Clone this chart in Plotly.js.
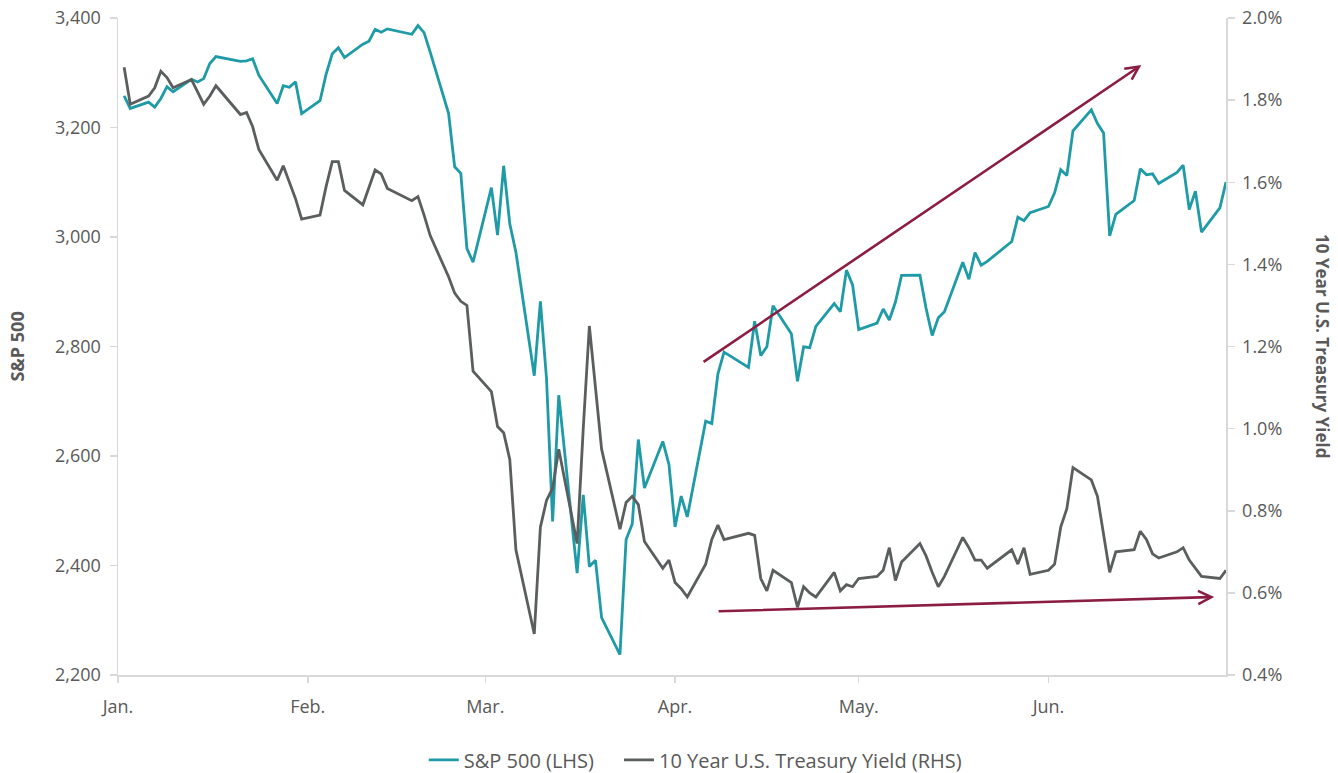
<!DOCTYPE html>
<html>
<head>
<meta charset="utf-8">
<script src="https://cdn.plot.ly/plotly-3.0.1.min.js"></script>
<style>html,body{margin:0;padding:0;background:#fff;}#chart{width:1338px;height:773px;}</style>
</head>
<body>
<div id="chart"></div>
<script>
const dates = [
'2020-01-02','2020-01-03','2020-01-06','2020-01-07','2020-01-08','2020-01-09','2020-01-10','2020-01-13','2020-01-14','2020-01-15','2020-01-16','2020-01-17','2020-01-21','2020-01-22','2020-01-23','2020-01-24','2020-01-27','2020-01-28','2020-01-29','2020-01-30','2020-01-31',
'2020-02-03','2020-02-04','2020-02-05','2020-02-06','2020-02-07','2020-02-10','2020-02-11','2020-02-12','2020-02-13','2020-02-14','2020-02-18','2020-02-19','2020-02-20','2020-02-21','2020-02-24','2020-02-25','2020-02-26','2020-02-27','2020-02-28',
'2020-03-02','2020-03-03','2020-03-04','2020-03-05','2020-03-06','2020-03-09','2020-03-10','2020-03-11','2020-03-12','2020-03-13','2020-03-16','2020-03-17','2020-03-18','2020-03-19','2020-03-20','2020-03-23','2020-03-24','2020-03-25','2020-03-26','2020-03-27','2020-03-30','2020-03-31',
'2020-04-01','2020-04-02','2020-04-03','2020-04-06','2020-04-07','2020-04-08','2020-04-09','2020-04-13','2020-04-14','2020-04-15','2020-04-16','2020-04-17','2020-04-20','2020-04-21','2020-04-22','2020-04-23','2020-04-24','2020-04-27','2020-04-28','2020-04-29','2020-04-30',
'2020-05-01','2020-05-04','2020-05-05','2020-05-06','2020-05-07','2020-05-08','2020-05-11','2020-05-12','2020-05-13','2020-05-14','2020-05-15','2020-05-18','2020-05-19','2020-05-20','2020-05-21','2020-05-22','2020-05-26','2020-05-27','2020-05-28','2020-05-29',
'2020-06-01','2020-06-02','2020-06-03','2020-06-04','2020-06-05','2020-06-08','2020-06-09','2020-06-10','2020-06-11','2020-06-12','2020-06-15','2020-06-16','2020-06-17','2020-06-18','2020-06-19','2020-06-22','2020-06-23','2020-06-24','2020-06-25','2020-06-26','2020-06-29','2020-06-30'
];

const sp500 = [
3257.85,3234.85,3246.28,3237.18,3253.05,3274.70,3265.35,3288.13,3283.15,3289.29,3316.81,3329.62,3320.79,3321.75,3325.54,3295.47,3243.63,3276.24,3273.40,3283.66,3225.52,
3248.92,3297.59,3334.69,3345.78,3327.71,3352.09,3357.75,3379.45,3373.94,3380.16,3370.29,3386.15,3373.23,3337.75,3225.89,3128.21,3116.39,2978.76,2954.22,
3090.23,3003.37,3130.12,3023.94,2972.37,2746.56,2882.23,2741.38,2480.64,2711.02,2386.13,2529.19,2398.10,2409.39,2304.92,2237.40,2447.33,2475.56,2630.07,2541.47,2626.65,2584.59,
2470.50,2526.90,2488.65,2663.68,2659.41,2749.98,2789.82,2761.63,2846.06,2783.36,2799.55,2874.56,2823.16,2736.56,2799.31,2797.80,2836.74,2878.48,2863.39,2939.51,2912.43,
2830.71,2842.74,2868.44,2848.42,2881.19,2929.80,2930.19,2870.12,2820.00,2852.50,2863.70,2953.91,2922.94,2971.61,2948.51,2955.45,2991.77,3036.13,3029.73,3044.31,
3055.73,3080.82,3122.87,3112.35,3193.93,3232.39,3207.18,3190.14,3002.10,3041.31,3066.59,3124.74,3113.49,3115.34,3097.74,3117.86,3131.29,3050.33,3083.76,3009.05,3053.24,3100.29
];

const yield10 = [
1.88,1.79,1.81,1.83,1.87,1.855,1.83,1.85,1.82,1.79,1.81,1.835,1.765,1.77,1.735,1.68,1.605,1.64,1.60,1.56,1.51,
1.52,1.59,1.65,1.65,1.58,1.545,1.59,1.63,1.62,1.585,1.555,1.565,1.52,1.47,1.37,1.33,1.31,1.30,1.14,
1.09,1.005,0.99,0.925,0.705,0.50,0.76,0.825,0.855,0.95,0.72,1.00,1.25,1.10,0.95,0.755,0.82,0.835,0.815,0.725,0.66,0.68,
0.625,0.61,0.59,0.67,0.73,0.765,0.73,0.745,0.74,0.635,0.605,0.655,0.625,0.565,0.615,0.60,0.59,0.65,0.605,0.62,0.615,
0.635,0.64,0.655,0.71,0.63,0.675,0.72,0.69,0.65,0.615,0.64,0.735,0.71,0.68,0.68,0.66,0.705,0.67,0.71,0.645,
0.655,0.67,0.76,0.805,0.905,0.875,0.835,0.74,0.65,0.70,0.705,0.75,0.73,0.695,0.685,0.70,0.71,0.68,0.66,0.64,0.635,0.655
];

const monthTicks = ['2020-01-01','2020-02-01','2020-03-01','2020-04-01','2020-05-01','2020-06-01'];
const monthLabels = ['Jan.','Feb.','Mar.','Apr.','May.','Jun.'];

const seriesNames = ['S&P 500 (LHS)','10 Year U.S. Treasury Yield (RHS)'];
const axisTitles = ['S&P 500','10 Year U.S. Treasury Yield'];

// trend arrows: [tail date, tail value, head date, head value]
const upArrow = ['2020-04-05 10:00', 2770, '2020-06-16 04:00', 3314];
const flatArrow = ['2020-04-07 21:00', 0.555, '2020-06-28 02:00', 0.59];

const TEAL = '#1E9BA6';
const GRAY = '#5A5E5E';
const MAROON = '#8C1D42';
const AX = '#D9D9D9';
const TXT = '#595959';
const FONT = 'Open Sans, Segoe UI, sans-serif';

const traces = [
  {x: dates, y: sp500, name: seriesNames[0] + '\u2003', type: 'scatter', mode: 'lines',
   line: {color: TEAL, width: 2.8}, yaxis: 'y'},
  {x: dates, y: yield10, name: seriesNames[1], type: 'scatter', mode: 'lines',
   line: {color: GRAY, width: 2.8}, yaxis: 'y2'}
];

const layout = {
  width: 1338, height: 773,
  margin: {l: 118, r: 112, t: 18, b: 98},
  paper_bgcolor: '#fff', plot_bgcolor: '#fff',
  font: {family: FONT, color: TXT, size: 18},
  showlegend: true,
  legend: {orientation: 'h', x: 0.52, xref: 'container', xanchor: 'center',
           y: 0.017, yref: 'container', yanchor: 'middle',
           font: {size: 20, color: TXT}, itemwidth: 30, tracegroupgap: 0},
  xaxis: {type: 'date', range: ['2020-01-01', '2020-06-30'],
          tickmode: 'array', tickvals: monthTicks, ticktext: monthLabels,
          ticks: 'outside', ticklen: 6, tickcolor: AX, tickwidth: 1.5,
          showline: true, linecolor: AX, linewidth: 1.5, showgrid: false, zeroline: false,
          ticklabelstandoff: 9, tickfont: {size: 18, color: TXT}},
  yaxis: {range: [2200, 3400], dtick: 200, tick0: 2200, tickformat: ',d',
          ticks: 'outside', ticklen: 7, tickcolor: AX, tickwidth: 1.5,
          showline: true, linecolor: AX, linewidth: 1.5, showgrid: false, zeroline: false,
          ticklabelstandoff: 5, tickfont: {size: 18, color: TXT}},
  yaxis2: {range: [0.4, 2.0], dtick: 0.2, tick0: 0.4, tickformat: '.1f', ticksuffix: '%',
           overlaying: 'y', side: 'right',
           ticks: 'outside', ticklen: 7, tickcolor: AX, tickwidth: 1.5,
           showline: true, linecolor: AX, linewidth: 1.5, showgrid: false, zeroline: false,
           ticklabelstandoff: 4, tickfont: {size: 18, color: TXT}},
  annotations: [
    {xref: 'paper', yref: 'paper', x: -0.092, y: 0.5, text: '<b>' + axisTitles[0] + '</b>',
     showarrow: false, textangle: -90, font: {size: 18, color: TXT}, xanchor: 'center', yanchor: 'middle'},
    {xref: 'paper', yref: 'paper', x: 1.087, y: 0.5, text: '<b>' + axisTitles[1] + '</b>',
     showarrow: false, textangle: 90, font: {size: 17, color: TXT}, xanchor: 'center', yanchor: 'middle'},
    {xref: 'x', yref: 'y', axref: 'x', ayref: 'y',
     x: upArrow[2], y: upArrow[3], ax: upArrow[0], ay: upArrow[1], text: '',
     showarrow: true, arrowhead: 5, arrowsize: 1, arrowwidth: 2.6, arrowcolor: MAROON},
    {xref: 'x', yref: 'y2', axref: 'x', ayref: 'y2',
     x: flatArrow[2], y: flatArrow[3], ax: flatArrow[0], ay: flatArrow[1], text: '',
     showarrow: true, arrowhead: 5, arrowsize: 1, arrowwidth: 2.6, arrowcolor: MAROON}
  ]
};

Plotly.newPlot('chart', traces, layout, {displayModeBar: false, staticPlot: true});
</script>
</body>
</html>
